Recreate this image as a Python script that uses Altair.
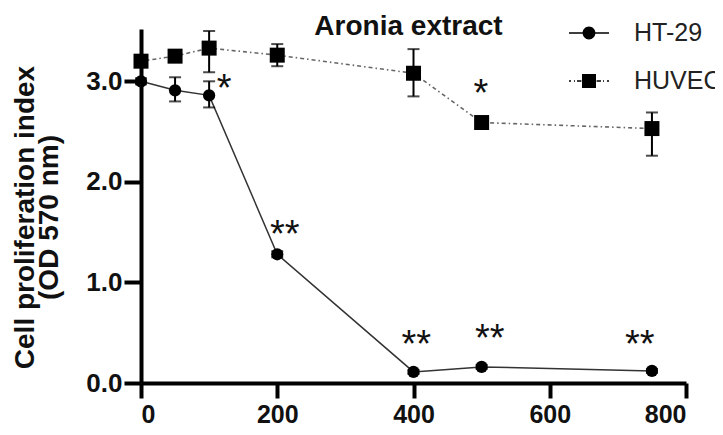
import altair as alt
import pandas as pd

# ---- data ----
conc = [0, 50, 100, 200, 400, 500, 750]
ht29_mean = [3.00, 2.91, 2.86, 1.28, 0.11, 0.16, 0.12]
ht29_lo = [2.97, 2.80, 2.74, 1.25, 0.09, 0.14, 0.10]
ht29_hi = [3.03, 3.04, 3.00, 1.31, 0.13, 0.18, 0.14]
huvec_mean = [3.20, 3.25, 3.33, 3.26, 3.08, 2.59, 2.53]
huvec_lo = [3.16, 3.21, 3.09, 3.15, 2.85, 2.56, 2.26]
huvec_hi = [3.24, 3.29, 3.50, 3.37, 3.32, 2.62, 2.69]

sig_x = [122, 499, 211, 404, 512, 732]
sig_y = [3.02, 2.97, 1.57, 0.48, 0.54, 0.48]
sig_text = ["*", "*", "**", "**", "**", "**"]

series_names = ["HT-29", "HUVEC"]
x_ticks = [0, 200, 400, 600, 800]
y_ticks = [0, 1, 2, 3]

rows = []
for i, c in enumerate(conc):
    rows.append({"series": "HT-29", "x": c, "y": ht29_mean[i], "lo": ht29_lo[i], "hi": ht29_hi[i]})
for i, c in enumerate(conc):
    rows.append({"series": "HUVEC", "x": c, "y": huvec_mean[i], "lo": huvec_lo[i], "hi": huvec_hi[i]})
df = pd.DataFrame(rows)
sig = pd.DataFrame({"x": sig_x, "y": sig_y, "t": sig_text})

FONT = "Liberation Sans"

xs = alt.Scale(domain=[0, 800], nice=False, zero=False)
ys = alt.Scale(domain=[0, 3.52], nice=False, zero=False)

xenc = alt.X("x:Q", scale=xs, axis=alt.Axis(
    values=x_ticks, title=None, grid=False, domainColor="black", domainWidth=4,
    tickColor="black", tickWidth=4, tickSize=15, labelFontSize=25, labelFont=FONT,
    labelFontWeight="bold", labelColor="#111", labelPadding=4, format="d"))
yenc = alt.Y("y:Q", scale=ys, axis=alt.Axis(
    values=y_ticks, grid=False, domainColor="black", domainWidth=4,
    tickColor="black", tickWidth=4, tickSize=17, labelFontSize=26, labelFont=FONT,
    labelFontWeight="bold", labelColor="#111", labelPadding=2, format=".1f",
    title=["Cell proliferation index", "(OD 570 nm)"], titleFont=FONT,
    titleFontSize=28, titleFontWeight="bold", titleColor="#111", titleLineHeight=24,
    titleAngle=-90, titleX=-116, titleY=188, titleAlign="center", titleBaseline="middle"))

base = alt.Chart(df)

line_ht = base.transform_filter(alt.datum.series == "HT-29").mark_line(
    color="#333", strokeWidth=1.5).encode(x=xenc, y=yenc)
line_hu = base.transform_filter(alt.datum.series == "HUVEC").mark_line(
    color="#666", strokeWidth=1.6, strokeDash=[4, 3, 1.5, 3]).encode(x=xenc, y=yenc)

err = base.mark_rule(color="black", strokeWidth=2).encode(
    x=alt.X("x:Q", scale=xs), y=alt.Y("lo:Q", scale=ys), y2="hi:Q")
cap_lo = base.mark_tick(color="black", thickness=2, size=12, orient="horizontal").encode(
    x=alt.X("x:Q", scale=xs), y=alt.Y("lo:Q", scale=ys))
cap_hi = base.mark_tick(color="black", thickness=2, size=12, orient="horizontal").encode(
    x=alt.X("x:Q", scale=xs), y=alt.Y("hi:Q", scale=ys))

pts_ht = base.transform_filter(alt.datum.series == "HT-29").mark_point(
    shape="circle", filled=True, size=150, color="black", opacity=1).encode(x=xenc, y=yenc)
pts_hu = base.transform_filter(alt.datum.series == "HUVEC").mark_point(
    shape="square", filled=True, size=225, color="black", opacity=1).encode(x=xenc, y=yenc)

stars = alt.Chart(sig).mark_text(fontSize=38, font=FONT, color="#111", baseline="alphabetic",
                                  align="center", dy=22).encode(
    x=alt.X("x:Q", scale=xs), y=alt.Y("y:Q", scale=ys), text="t:N")


# legend symbols: line (thin filled bars) + marker, as custom unit paths
def seg(a, b, h=0.04):
    return f"M{a},{-h}L{b},{-h}L{b},{h}L{a},{h}Z "


path_ht = (seg(-1, -0.3) + seg(0.3, 1) +
           "M0.32,0 A0.32,0.32 0 1,1 -0.32,0 A0.32,0.32 0 1,1 0.32,0 Z")
path_hu = (seg(-1, -0.9) + seg(-0.75, -0.7) + seg(-0.6, -0.38) +
           seg(0.38, 0.6) + seg(0.7, 0.75) + seg(0.9, 1) +
           "M-0.35,-0.35L0.35,-0.35L0.35,0.35L-0.35,0.35Z")

legend_layer = base.transform_filter("false").mark_point(
    filled=True, color="black", size=1600, opacity=1).encode(
    x=alt.X("x:Q", scale=xs), y=alt.Y("y:Q", scale=ys),
    shape=alt.Shape("series:N", scale=alt.Scale(domain=series_names, range=[path_ht, path_hu]),
                    legend=alt.Legend(title=None, orient="none", legendX=427, legendY=-17,
                                      symbolSize=1600, symbolFillColor="#111",
                                      labelFontSize=25, labelFont=FONT, labelColor="#222",
                                      labelOffset=24, rowPadding=14, padding=0,
                                      labelLimit=400)))

chart = alt.layer(line_ht, line_hu, err, cap_lo, cap_hi, pts_ht, pts_hu, stars, legend_layer).properties(
    width=545, height=354,
    padding={"left": 133, "top": 21, "right": 29, "bottom": 44},
    autosize=alt.AutoSizeParams(type="none"),
    title=alt.TitleParams("Aronia extract", fontSize=28, font=FONT, fontWeight="bold",
                          color="#111", anchor="middle", frame="group", dx=-5, dy=51,
                          baseline="alphabetic", offset=0),
    background="white",
).configure_view(stroke=None)

chart.save("out.html", embed_options={"renderer": "svg", "actions": False})
